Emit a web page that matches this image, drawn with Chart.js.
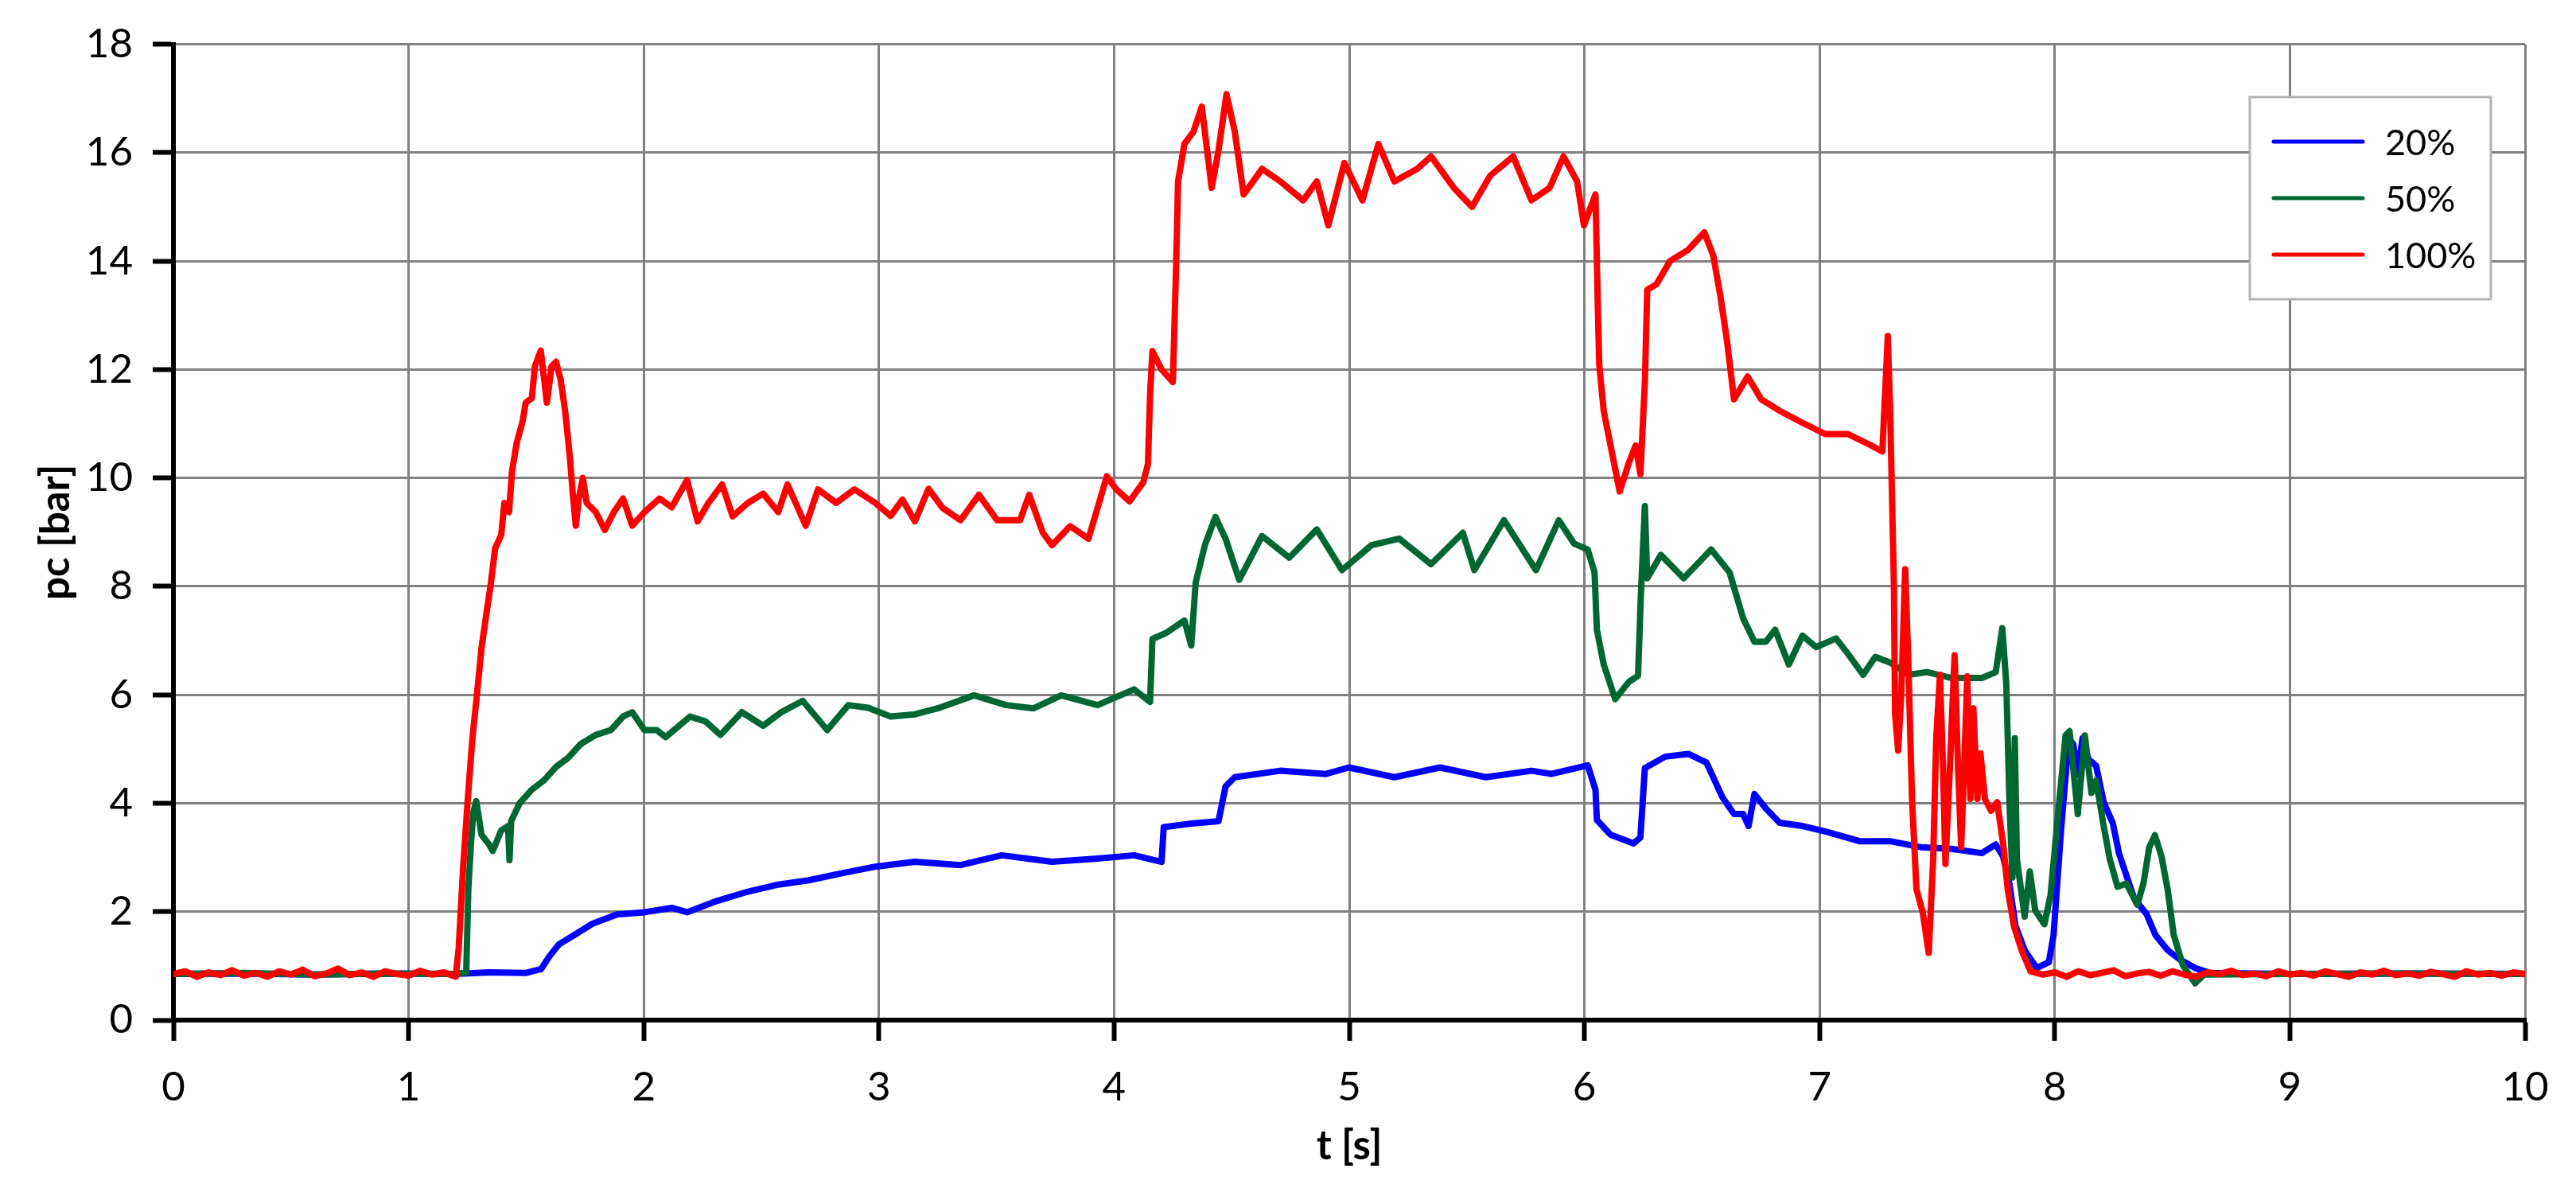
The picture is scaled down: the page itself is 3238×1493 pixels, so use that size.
<!DOCTYPE html>
<html>
<head>
<meta charset="utf-8">
<title>pc vs t</title>
<script src="https://cdn.jsdelivr.net/npm/chart.js@4.4.1/dist/chart.umd.min.js"></script>
<style>
    html, body { margin: 0; padding: 0; background: #fff; }
    #wrap { width: 3238px; height: 1493px; }
</style>
</head>
<body>
<div id="wrap"><canvas id="pcChart" width="3238" height="1493"></canvas></div>
<script>
// series labels and colours
var seriesNames = ['20%', '50%', '100%'];
var seriesColors = ['#0000ff', '#006633', '#ff0000'];

// 20% run: time [s] and pressure [bar]
var t20 = [0, 0.3, 0.6, 0.9, 1.2, 1.342, 1.5, 1.563, 1.601, 1.64, 1.705, 1.783, 1.886, 2.003, 2.119, 2.184, 2.313,
    2.443, 2.572, 2.702, 2.831, 2.984, 3.153, 3.347, 3.522, 3.736, 3.93, 4.085, 4.202, 4.211, 4.318, 4.444, 4.474,
    4.513, 4.707, 4.901, 4.998, 5.192, 5.386, 5.581, 5.775, 5.859, 6.014, 6.047, 6.053, 6.111, 6.209, 6.238, 6.257,
    6.344, 6.442, 6.519, 6.587, 6.636, 6.675, 6.698, 6.723, 6.772, 6.83, 6.927, 7.024, 7.17, 7.3, 7.43, 7.56, 7.69,
    7.749, 7.78, 7.807, 7.833, 7.872, 7.923, 7.975, 7.995, 8.027, 8.06, 8.079, 8.098, 8.118, 8.144, 8.176, 8.208,
    8.247, 8.273, 8.299, 8.338, 8.39, 8.428, 8.48, 8.532, 8.597, 8.661, 9.0, 9.5, 10];
var p20 = [0.85, 0.86, 0.84, 0.86, 0.85, 0.88, 0.87, 0.94, 1.19, 1.4, 1.57, 1.78, 1.95, 1.99, 2.07, 1.99, 2.2,
    2.37, 2.5, 2.58, 2.7, 2.83, 2.92, 2.86, 3.04, 2.92, 2.98, 3.04, 2.92, 3.56, 3.62, 3.67, 4.31,
    4.48, 4.6, 4.54, 4.66, 4.48, 4.66, 4.48, 4.6, 4.54, 4.7, 4.25, 3.69, 3.42, 3.26, 3.37, 4.65,
    4.86, 4.91, 4.75, 4.11, 3.8, 3.8, 3.58, 4.17, 3.9, 3.64, 3.58, 3.48, 3.3, 3.3, 3.19, 3.16, 3.08,
    3.24, 3.02, 2.52, 1.74, 1.29, 0.96, 1.07, 1.57, 3.52, 5.2, 5.08, 4.53, 5.2, 4.81, 4.69, 4.02,
    3.63, 3.08, 2.74, 2.24, 1.96, 1.57, 1.29, 1.12, 0.96, 0.87, 0.85, 0.86, 0.85];

// 50% run
var t50 = [0, 0.3, 0.6, 0.9, 1.2, 1.245, 1.254, 1.265, 1.275, 1.288, 1.31, 1.342, 1.358, 1.394, 1.423, 1.429, 1.436,
    1.472, 1.524, 1.575, 1.627, 1.679, 1.731, 1.796, 1.86, 1.912, 1.951, 2.003, 2.055, 2.093, 2.197, 2.262, 2.326,
    2.417, 2.508, 2.585, 2.676, 2.78, 2.87, 2.954, 3.05, 3.153, 3.25, 3.405, 3.541, 3.658, 3.775, 3.93, 4.085,
    4.153, 4.163, 4.221, 4.299, 4.328, 4.347, 4.386, 4.431, 4.474, 4.532, 4.629, 4.745, 4.862, 4.969, 5.095, 5.212,
    5.348, 5.483, 5.532, 5.658, 5.794, 5.891, 5.956, 6.014, 6.043, 6.053, 6.082, 6.131, 6.189, 6.228, 6.24, 6.257,
    6.267, 6.325, 6.422, 6.539, 6.617, 6.675, 6.723, 6.772, 6.811, 6.869, 6.927, 6.985, 7.07, 7.12, 7.185, 7.237,
    7.302, 7.38, 7.457, 7.561, 7.626, 7.69, 7.749, 7.777, 7.794, 7.807, 7.82, 7.83, 7.839, 7.872, 7.894, 7.917,
    7.956, 7.982, 8.014, 8.046, 8.063, 8.098, 8.128, 8.156, 8.176, 8.208, 8.234, 8.267, 8.305, 8.351, 8.377, 8.402,
    8.426, 8.454, 8.48, 8.506, 8.545, 8.597, 8.635, 9.0, 9.5, 10];
var p50 = [0.85, 0.87, 0.84, 0.86, 0.85, 0.88, 2.41, 3.24, 3.83, 4.04, 3.42, 3.24, 3.12, 3.5, 3.58, 2.95, 3.67,
    4.0, 4.25, 4.42, 4.67, 4.84, 5.09, 5.26, 5.35, 5.6, 5.68, 5.35, 5.35, 5.22, 5.6, 5.51, 5.26,
    5.68, 5.43, 5.68, 5.89, 5.35, 5.81, 5.76, 5.6, 5.64, 5.75, 5.99, 5.81, 5.75, 5.99, 5.81, 6.1,
    5.87, 7.03, 7.14, 7.37, 6.91, 8.07, 8.76, 9.28, 8.88, 8.12, 8.93, 8.53, 9.05, 8.3, 8.76, 8.88,
    8.41, 8.99, 8.3, 9.22, 8.3, 9.22, 8.79, 8.68, 8.26, 7.2, 6.56, 5.92, 6.24, 6.35, 7.83, 9.48,
    8.15, 8.58, 8.15, 8.68, 8.26, 7.41, 6.98, 6.98, 7.2, 6.56, 7.09, 6.88, 7.04, 6.76, 6.37, 6.7,
    6.59, 6.37, 6.42, 6.31, 6.31, 6.31, 6.42, 7.23, 6.2, 4.08, 2.63, 5.2, 2.97, 1.91, 2.74, 2.02,
    1.77, 2.3, 3.8, 5.25, 5.33, 3.8, 5.25, 4.19, 4.42, 3.58, 2.97, 2.46, 2.52, 2.13, 2.52, 3.19,
    3.41, 3.02, 2.41, 1.57, 1.01, 0.68, 0.84, 0.85, 0.86, 0.85];

// 100% run
var t100 = [0, 0.05, 0.1, 0.15, 0.2, 0.25, 0.3, 0.35, 0.4, 0.45, 0.5, 0.55, 0.6, 0.65, 0.7, 0.75, 0.8, 0.85, 0.9,
    0.95, 1.0, 1.05, 1.1, 1.15, 1.2, 1.213, 1.232, 1.252, 1.271, 1.291, 1.31, 1.329, 1.349, 1.368, 1.394, 1.407,
    1.427, 1.44, 1.459, 1.485, 1.498, 1.524, 1.537, 1.562, 1.588, 1.608, 1.627, 1.647, 1.666, 1.686, 1.698, 1.711,
    1.724, 1.741, 1.757, 1.796, 1.834, 1.873, 1.912, 1.951, 2.003, 2.067, 2.119, 2.184, 2.229, 2.275, 2.333, 2.378,
    2.443, 2.508, 2.572, 2.611, 2.689, 2.741, 2.818, 2.896, 2.984, 3.05, 3.1, 3.153, 3.211, 3.27, 3.347, 3.425,
    3.503, 3.6, 3.639, 3.697, 3.736, 3.813, 3.891, 3.93, 3.969, 4.007, 4.066, 4.124, 4.144, 4.153, 4.163, 4.202,
    4.25, 4.264, 4.272, 4.299, 4.338, 4.373, 4.415, 4.444, 4.478, 4.513, 4.551, 4.629, 4.707, 4.804, 4.862, 4.911,
    4.979, 5.056, 5.124, 5.192, 5.289, 5.348, 5.445, 5.522, 5.6, 5.697, 5.775, 5.852, 5.911, 5.969, 5.998, 6.047,
    6.057, 6.063, 6.082, 6.111, 6.15, 6.189, 6.218, 6.238, 6.257, 6.267, 6.306, 6.364, 6.442, 6.51, 6.548, 6.578,
    6.607, 6.636, 6.694, 6.752, 6.83, 6.927, 7.024, 7.121, 7.219, 7.267, 7.29, 7.3, 7.316, 7.321, 7.334, 7.347,
    7.364, 7.377, 7.393, 7.412, 7.438, 7.464, 7.483, 7.496, 7.512, 7.525, 7.535, 7.554, 7.574, 7.589, 7.602, 7.619,
    7.628, 7.641, 7.654, 7.671, 7.684, 7.703, 7.729, 7.755, 7.768, 7.781, 7.8, 7.826, 7.859, 7.897, 7.95, 8.0,
    8.05, 8.1, 8.15, 8.2, 8.25, 8.3, 8.35, 8.4, 8.45, 8.5, 8.55, 8.6, 8.65, 8.7, 8.75, 8.8, 8.85, 8.9, 8.95, 9.0,
    9.05, 9.1, 9.15, 9.2, 9.25, 9.3, 9.35, 9.4, 9.45, 9.5, 9.55, 9.6, 9.65, 9.7, 9.75, 9.8, 9.85, 9.9, 9.95, 10];
var p100 = [0.85, 0.9, 0.8, 0.88, 0.83, 0.92, 0.82, 0.87, 0.8, 0.9, 0.84, 0.93, 0.81, 0.86, 0.95, 0.83, 0.88, 0.8, 0.9,
    0.85, 0.82, 0.91, 0.84, 0.88, 0.8, 1.32, 2.83, 4.09, 5.18, 6.02, 6.86, 7.44, 8.03, 8.7, 8.95, 9.54,
    9.37, 10.13, 10.63, 11.05, 11.39, 11.47, 12.06, 12.35, 11.39, 12.06, 12.14, 11.8, 11.22, 10.38, 9.71, 9.12,
    9.62, 10.0, 9.54, 9.37, 9.04, 9.37, 9.62, 9.12, 9.37, 9.62, 9.46, 9.96, 9.2, 9.54, 9.88, 9.29,
    9.54, 9.71, 9.37, 9.88, 9.12, 9.79, 9.54, 9.79, 9.54, 9.3, 9.6, 9.2, 9.8, 9.45, 9.22, 9.69,
    9.22, 9.22, 9.69, 8.99, 8.76, 9.11, 8.88, 9.45, 10.03, 9.8, 9.57, 9.92, 10.26, 11.54, 12.34, 12.0,
    11.77, 13.96, 15.47, 16.16, 16.39, 16.85, 15.35, 16.04, 17.08, 16.39, 15.23, 15.7, 15.47, 15.12, 15.47, 14.66,
    15.81, 15.12, 16.16, 15.47, 15.7, 15.93, 15.35, 15.0, 15.58, 15.93, 15.12, 15.35, 15.93, 15.47, 14.66, 15.23,
    13.15, 12.09, 11.24, 10.6, 9.75, 10.28, 10.6, 10.07, 11.77, 13.47, 13.57, 14.0, 14.21, 14.53, 14.1, 13.36,
    12.51, 11.45, 11.87, 11.45, 11.24, 11.02, 10.81, 10.81, 10.6, 10.49, 12.62, 11.24, 8.05, 5.64, 4.97, 5.98,
    8.32, 6.65, 4.08, 2.41, 2.0, 1.24, 2.96, 5.2, 6.37, 4.64, 2.88, 4.64, 6.73, 4.64, 3.19, 5.2,
    6.34, 4.08, 5.75, 4.08, 4.92, 4.08, 3.86, 4.02, 3.63, 3.24, 2.41, 1.74, 1.29, 0.9, 0.84, 0.88,
    0.8, 0.9, 0.83, 0.87, 0.92, 0.81, 0.86, 0.89, 0.82, 0.9, 0.84, 0.8, 0.88, 0.85, 0.91, 0.83, 0.86, 0.81, 0.9, 0.84,
    0.87, 0.82, 0.9, 0.85, 0.8, 0.88, 0.84, 0.91, 0.83, 0.86, 0.82, 0.89, 0.85, 0.8, 0.9, 0.84, 0.87, 0.82, 0.88, 0.85];

// tick values on both axes
var xTicks = [0, 1, 2, 3, 4, 5, 6, 7, 8, 9, 10];
var yTicks = [0, 2, 4, 6, 8, 10, 12, 14, 16, 18];

function toPoints(ts, ps) {
    return ts.map(function(t, i) { return { x: t, y: ps[i] }; });
}

var allT = [t20, t50, t100];
var allP = [p20, p50, p100];

var datasets = seriesNames.map(function(name, i) {
    return {
        label: name,
        data: toPoints(allT[i], allP[i]),
        borderColor: seriesColors[i],
        backgroundColor: seriesColors[i],
        borderWidth: 8,
        borderJoinStyle: 'round',
        pointRadius: 0,
        tension: 0,
        fill: false,
        order: 3 - i // red drawn on top
    };
});

// boxed legend in the top right corner, like the original
var boxLegend = {
    id: 'boxLegend',
    afterDraw: function(chart) {
        var c = chart.ctx;
        var x0 = 2828, y0 = 122, w = 303, h = 254;
        c.save();
        c.fillStyle = '#ffffff';
        c.fillRect(x0, y0, w, h);
        c.strokeStyle = '#b3b3b3';
        c.lineWidth = 3;
        c.strokeRect(x0, y0, w, h);
        c.font = '45px Lato';
        c.textBaseline = 'middle';
        c.textAlign = 'left';
        chart.data.datasets.forEach(function(ds, i) {
            var yy = 178 + i * 71;
            c.strokeStyle = ds.borderColor;
            c.lineWidth = 5;
            c.lineCap = 'round';
            c.beginPath();
            c.moveTo(2858, yy);
            c.lineTo(2970, yy);
            c.stroke();
            c.fillStyle = '#000';
            c.fillText(ds.label, 2998, yy + 2);
        });
        c.restore();
    }
};

Chart.defaults.font.family = 'Lato';
Chart.defaults.color = '#000';

var ctx = document.getElementById('pcChart').getContext('2d');
var pcChart = new Chart(ctx, {
    type: 'line',
    data: { datasets: datasets },
    plugins: [boxLegend],
    options: {
        responsive: false,
        animation: false,
        layout: { padding: { top: 51, right: 64, left: 0, bottom: 0 } },
        plugins: {
            legend: { display: false },
            tooltip: { enabled: false }
        },
        scales: {
            x: {
                type: 'linear',
                min: 0,
                max: 10,
                afterBuildTicks: function(scale) {
                    scale.ticks = xTicks.map(function(v) { return { value: v }; });
                },
                afterFit: function(scale) { scale.height = 211; },
                grid: {
                    color: '#808080',
                    lineWidth: 3,
                    tickColor: '#000',
                    tickWidth: 6,
                    tickLength: 26
                },
                border: { color: '#000', width: 6 },
                ticks: { font: { size: 51 }, padding: 28, maxRotation: 0 },
                title: {
                    display: true,
                    text: 't [s]',
                    font: { size: 51, weight: 'bold' },
                    padding: { top: 0, bottom: 22 }
                }
            },
            y: {
                type: 'linear',
                min: 0,
                max: 18,
                afterBuildTicks: function(scale) {
                    scale.ticks = yTicks.map(function(v) { return { value: v }; });
                },
                afterFit: function(scale) { scale.width = 218; },
                grid: {
                    color: '#808080',
                    lineWidth: 3,
                    tickColor: '#000',
                    tickWidth: 6,
                    tickLength: 26
                },
                border: { color: '#000', width: 6 },
                ticks: { font: { size: 51 }, padding: 25 },
                title: {
                    display: true,
                    text: 'pc [bar]',
                    font: { size: 51, weight: 'bold' },
                    padding: { top: 40, bottom: 0 }
                }
            }
        }
    }
});
</script>
</body>
</html>
